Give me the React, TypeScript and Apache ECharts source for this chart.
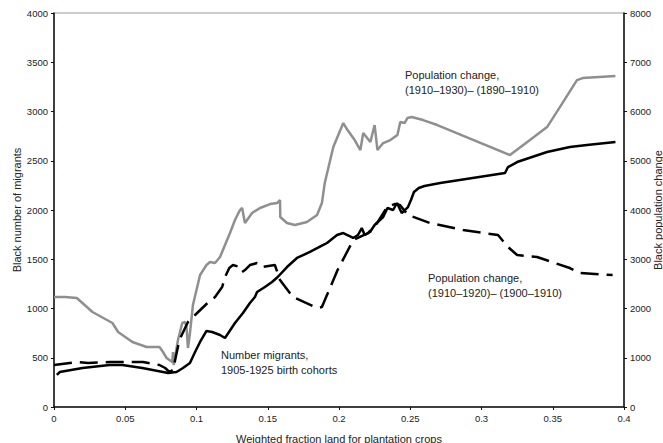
import React, { useEffect, useRef } from "react";
import * as echarts from "echarts";

// x-axis: weighted fraction land for plantation crops
const xTicks = [0, 0.05, 0.1, 0.15, 0.2, 0.25, 0.3, 0.35, 0.4];
const leftTicks = [0, 500, 1000, 1500, 2000, 2500, 3000, 3500, 4000];
const rightTicks = [0, 1000, 2000, 3000, 4000, 5000, 6000, 7000, 8000];

// Population change (1910–1930) – (1890–1910), right axis (gray)
const grayX = [0, 0.0077, 0.016, 0.027, 0.041, 0.045, 0.055, 0.065, 0.074, 0.0765, 0.079, 0.083, 0.0835, 0.084, 0.087, 0.09, 0.092, 0.093, 0.094, 0.0954, 0.0975, 0.1, 0.1025, 0.107, 0.1095, 0.113, 0.1165, 0.12, 0.1235, 0.127, 0.1305, 0.132, 0.134, 0.139, 0.1446, 0.1516, 0.1565, 0.1586, 0.1588, 0.1635, 0.169, 0.1775, 0.1846, 0.188, 0.19, 0.196, 0.203, 0.206, 0.211, 0.215, 0.217, 0.222, 0.225, 0.227, 0.231, 0.236, 0.241, 0.243, 0.246, 0.248, 0.251, 0.259, 0.269, 0.32, 0.334, 0.346, 0.355, 0.367, 0.371, 0.394];
const grayY = [2233, 2233, 2213, 1929, 1705, 1523, 1320, 1218, 1218, 1117, 995, 913, 1117, 853, 1360, 1705, 1726, 1624, 1198, 1502, 2071, 2375, 2680, 2883, 2944, 2923, 3045, 3289, 3532, 3796, 3999, 4040, 3735, 3938, 4040, 4121, 4141, 4202, 3857, 3735, 3695, 3756, 3898, 4141, 4547, 5278, 5765, 5623, 5420, 5217, 5562, 5380, 5725, 5217, 5359, 5420, 5522, 5786, 5765, 5867, 5887, 5826, 5725, 5116, 5420, 5684, 6090, 6638, 6679, 6719];

// Number migrants, 1905-1925 birth cohorts, left axis (black solid)
const migX = [0.002, 0.004, 0.02, 0.039, 0.048, 0.062, 0.0765, 0.08, 0.086, 0.0905, 0.0954, 0.099, 0.1025, 0.107, 0.111, 0.1165, 0.12, 0.127, 0.1326, 0.1375, 0.141, 0.1425, 0.148, 0.153, 0.157, 0.1635, 0.1705, 0.1796, 0.189, 0.1916, 0.1986, 0.203, 0.21, 0.2133, 0.216, 0.218, 0.2218, 0.225, 0.231, 0.234, 0.238, 0.2407, 0.244, 0.2484, 0.2505, 0.2526, 0.256, 0.26, 0.271, 0.3165, 0.3186, 0.325, 0.346, 0.362, 0.374, 0.394];
const migY = [325, 355, 396, 426, 426, 396, 355, 345, 355, 396, 447, 558, 660, 772, 761, 731, 700, 853, 954, 1056, 1117, 1167, 1218, 1269, 1320, 1421, 1513, 1574, 1645, 1665, 1746, 1766, 1716, 1746, 1817, 1746, 1777, 1848, 1929, 2020, 2000, 2071, 1969, 2030, 2101, 2183, 2223, 2244, 2274, 2376, 2436, 2487, 2589, 2640, 2660, 2690];

// Population change (1910–1920) – (1900–1910), right axis (black dashed)
const dashX = [0, 0.017, 0.024, 0.039, 0.0625, 0.074, 0.078, 0.081, 0.0835, 0.088, 0.094, 0.099, 0.107, 0.113, 0.118, 0.12, 0.123, 0.1256, 0.1305, 0.132, 0.134, 0.1375, 0.1425, 0.146, 0.155, 0.1586, 0.1677, 0.1846, 0.188, 0.199, 0.21, 0.2204, 0.2267, 0.2337, 0.239, 0.2428, 0.2484, 0.264, 0.287, 0.3116, 0.3186, 0.325, 0.339, 0.362, 0.369, 0.392];
const dashY = [853, 914, 893, 914, 914, 853, 792, 711, 751, 1360, 1726, 1868, 2091, 2233, 2436, 2639, 2822, 2883, 2842, 2740, 2781, 2883, 2923, 2842, 2883, 2578, 2233, 2010, 2030, 2781, 3390, 3532, 3735, 4060, 4121, 4101, 3898, 3735, 3593, 3492, 3248, 3086, 3045, 2822, 2720, 2680];

const pairs = (xs: number[], ys: number[]) => xs.map((x, i) => [x, ys[i]]);

const FONT = "Liberation Sans, Arial, sans-serif";

export default function App() {
  const ref = useRef<HTMLDivElement>(null);
  useEffect(() => {
    if (!ref.current) return;
    const chart = echarts.init(ref.current, null, { renderer: "svg" });
    const axisLabel = { color: "#222", fontSize: 9.5, fontFamily: FONT };
    chart.setOption({
      animation: false,
      backgroundColor: "#fff",
      grid: {
        left: 54, right: 39, top: 13, bottom: 36,
        containLabel: false,
        outerBoundsMode: "none",
        show: true, borderColor: "#999", borderWidth: 1,
      },
      xAxis: {
        type: "value",
        min: xTicks[0],
        max: xTicks[xTicks.length - 1],
        interval: 0.05,
        name: "Weighted fraction land for plantation crops",
        nameLocation: "middle",
        nameGap: 26,
        nameMoveOverlap: false,
        nameTextStyle: { color: "#222", fontSize: 11, fontFamily: FONT },
        axisLine: { lineStyle: { color: "#111", width: 1.5 } },
        axisTick: { show: true, length: 3, lineStyle: { color: "#111" } },
        axisLabel: { ...axisLabel, margin: 6, formatter: (v: number) => String(Number(v.toFixed(2))) },
        splitLine: { show: false },
      },
      yAxis: [
        {
          type: "value",
          min: leftTicks[0],
          max: leftTicks[leftTicks.length - 1],
          interval: 500,
          name: "Black number of migrants",
          nameLocation: "middle",
          nameGap: 32,
          nameMoveOverlap: false,
          nameTextStyle: { color: "#222", fontSize: 11, fontFamily: FONT },
          axisLine: { show: true, lineStyle: { color: "#111", width: 1.5 } },
          axisTick: { show: true, length: 3, lineStyle: { color: "#111" } },
          axisLabel: { ...axisLabel, margin: 6, formatter: (v: number) => String(v) },
          splitLine: { show: false },
        },
        {
          type: "value",
          min: rightTicks[0],
          max: rightTicks[rightTicks.length - 1],
          interval: 1000,
          position: "right",
          name: "Black population change",
          nameLocation: "middle",
          nameGap: 28,
          nameRotate: 90,
          nameMoveOverlap: false,
          nameTextStyle: { color: "#222", fontSize: 11, fontFamily: FONT },
          axisLine: { show: true, lineStyle: { color: "#111", width: 1.5 } },
          axisTick: { show: true, length: 3, lineStyle: { color: "#111" } },
          axisLabel: { ...axisLabel, margin: 6, formatter: (v: number) => String(v) },
          splitLine: { show: false },
        },
      ],
      series: [
        {
          name: "Population change (1910–1930) – (1890–1910)",
          type: "line",
          yAxisIndex: 1,
          data: pairs(grayX, grayY),
          showSymbol: false,
          symbol: "none",
          lineStyle: { color: "#8f8f8f", width: 2.5 },
        },
        {
          name: "Population change (1910–1920) – (1900–1910)",
          type: "line",
          yAxisIndex: 1,
          data: pairs(dashX, dashY),
          showSymbol: false,
          symbol: "none",
          lineStyle: { color: "#000", width: 2.5, type: [18, 8] },
        },
        {
          name: "Number migrants, 1905-1925 birth cohorts",
          type: "line",
          yAxisIndex: 0,
          data: pairs(migX, migY),
          showSymbol: false,
          symbol: "none",
          lineStyle: { color: "#000", width: 2.5 },
        },
      ],
      graphic: [
        {
          type: "text",
          left: 405,
          top: 67,
          style: { text: "Population change,\n(1910–1930)– (1890–1910)", fill: "#222", font: `11px ${FONT}`, lineHeight: 15 },
        },
        {
          type: "text",
          left: 428,
          top: 270,
          style: { text: "Population change,\n(1910–1920)– (1900–1910)", fill: "#222", font: `11px ${FONT}`, lineHeight: 15 },
        },
        {
          type: "text",
          left: 221,
          top: 347,
          style: { text: "Number migrants,\n1905-1925 birth cohorts", fill: "#222", font: `11px ${FONT}`, lineHeight: 15 },
        },
      ],
    });
    return () => chart.dispose();
  }, []);
  return <div ref={ref} style={{ width: 663, height: 443, position: "absolute", left: 0, top: 0 }} />;
}
